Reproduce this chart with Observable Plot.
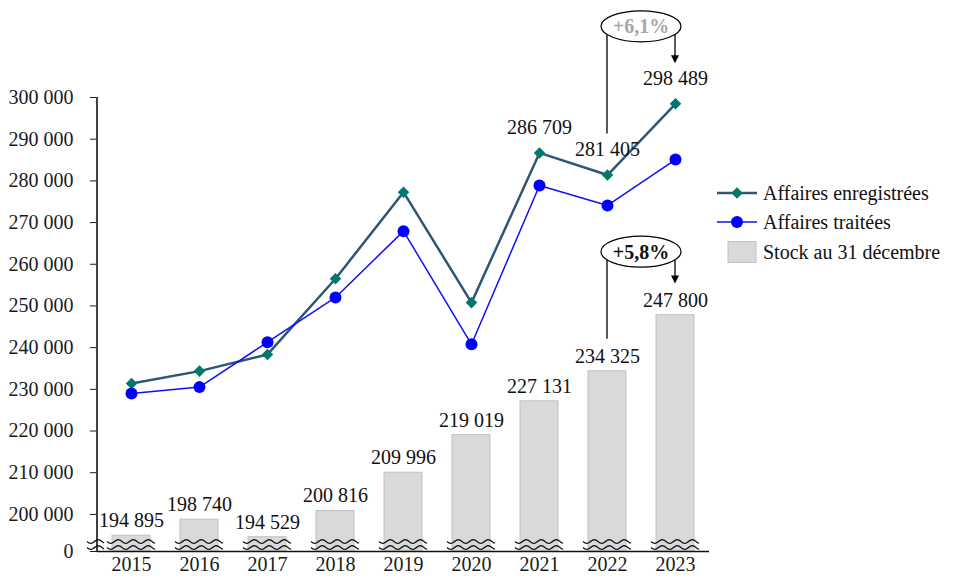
<!DOCTYPE html>
<html><head><meta charset="utf-8">
<script src="https://cdn.jsdelivr.net/npm/d3@7"></script>
<script src="https://cdn.jsdelivr.net/npm/@observablehq/plot@0.6"></script>
<style>
body{margin:0;background:#fff}
#chart{position:relative;width:959px;height:578px}
</style>
</head><body><div id="chart"></div>
<script>
// ---- data ----
const years = [2015, 2016, 2017, 2018, 2019, 2020, 2021, 2022, 2023];
const enregistrees = [231400, 234370, 238370, 256520, 277290, 250800, 286709, 281405, 298489];
const traitees = [229000, 230530, 241320, 252040, 267940, 240800, 278900, 274100, 285100];
const stock = [194895, 198740, 194529, 200816, 209996, 219019, 227131, 234325, 247800];
const labelledYears = [2021, 2022, 2023];
const yBreak = 191100; // bottom of the broken axis, labelled "0"
const yTicks = [191100, 200000, 210000, 220000, 230000, 240000, 250000, 260000, 270000, 280000, 290000, 300000];
const yTickLabels = ["0", "200 000", "210 000", "220 000", "230 000", "240 000", "250 000", "260 000", "270 000", "280 000", "290 000", "300 000"];
const growthLabels = ["+6,1%", "+5,8%"];
const legendLabels = ["Affaires enregistrées", "Affaires traitées", "Stock au 31 décembre"];

const fmt = n => d3.format(",")(n).replace(/,/g, "\u00a0");
const data = years.map((year, i) => ({year, enr: enregistrees[i], tra: traitees[i], stock: stock[i]}));

const C_ENR_LINE = "#2f5676", C_ENR_DOT = "#00786c", C_TRA = "#1010f5", C_BAR = "#d9d9d9", C_AXIS = "#404040";

const chart = Plot.plot({
  width: 959, height: 578,
  marginLeft: 97, marginRight: 250, marginTop: 97, marginBottom: 27,
  style: {fontFamily: "'Liberation Serif', serif", fontSize: "20px", color: "#1a1a1a", background: "transparent", overflow: "visible"},
  x: {type: "band", domain: years, paddingInner: 0.44, paddingOuter: 0.22, tickSize: 0, tickPadding: 5, label: null, tickFormat: d => String(d)},
  y: {domain: [yBreak, 300000], ticks: yTicks, tickFormat: d => yTickLabels[yTicks.indexOf(d)], tickSize: 7, tickPadding: 17, label: null},
  marks: [
    Plot.barY(data, {x: "year", y1: () => yBreak, y2: "stock", fill: C_BAR, stroke: "#c2c2c2", strokeWidth: 1}),
    Plot.ruleY([yBreak], {stroke: "#111", strokeWidth: 1.6}),
    Plot.line(data, {x: "year", y: "enr", stroke: C_ENR_LINE, strokeWidth: 2.5}),
    Plot.line(data, {x: "year", y: "tra", stroke: C_TRA, strokeWidth: 1.5}),
    Plot.dot(data, {x: "year", y: "enr", symbol: "diamond2", r: 5.2, fill: C_ENR_DOT}),
    Plot.dot(data, {x: "year", y: "tra", r: 6, fill: "#0000ff"}),
    Plot.text(data, {x: "year", y: "stock", text: d => fmt(d.stock), dy: -15, fill: "#111"}),
    Plot.text(data.filter(d => labelledYears.includes(d.year)), {x: "year", y: "enr", text: d => fmt(d.enr), dy: -25, fill: "#111"})
  ]
});
document.getElementById("chart").appendChild(chart);

// ---- decorations drawn from the Plot scales ----
const svg = d3.select(chart);
const xs = chart.scale("x"), ys = chart.scale("y");
const bw = xs.bandwidth;
const cx = y => xs.apply(y) + bw / 2;
const base = ys.apply(yBreak);
const axisX = xs.range[0];

// y axis line
svg.append("line").attr("x1", axisX).attr("x2", axisX).attr("y1", ys.apply(300000)).attr("y2", base)
  .attr("stroke", C_AXIS).attr("stroke-width", 2);

function wave(x0, x1, y, amp = 1.8, period = 15) {
  const pts = d3.range(x0, x1 + 0.5, 1).map(x => [x, y + amp * Math.sin(2 * Math.PI * (x - x0) / period)]);
  return d3.line()(pts);
}
const wg = svg.append("g").attr("fill", "none").attr("stroke", "#111").attr("stroke-width", 1.3);
const breaks = [[axisX - 10, axisX + 7], ...years.map(y => [xs.apply(y) - 5, xs.apply(y) + bw + 5])];
for (const [a, b] of breaks) {
  wg.append("path").attr("d", wave(a, b, base - 9.5));
  wg.append("path").attr("d", wave(a, b, base - 3.5));
}

// growth annotations
const x22 = cx(2022), x23 = cx(2023), mid = (x22 + x23) / 2;
const ann = [
  {text: growthLabels[0], color: "#a6a6a6", y22: ys.apply(enregistrees[7]), y23: ys.apply(enregistrees[8]), eOff: -77, endOff: -41},
  {text: growthLabels[1], color: "#111", y22: ys.apply(stock[7]), y23: ys.apply(stock[8]), eOff: -63, endOff: -32}
];
const rx = 40, ry = 15.5;
const ag = svg.append("g").attr("text-anchor", "middle");
for (const a of ann) {
  const cy = a.y23 + a.eOff;
  const edge = cy + ry * Math.sqrt(1 - Math.pow((x22 - mid) / rx, 2));
  ag.append("line").attr("x1", x22).attr("x2", x22).attr("y1", edge).attr("y2", a.y22 + a.endOff).attr("stroke", "#000").attr("stroke-width", 1.3);
  const tip = a.y23 + a.endOff + 1;
  ag.append("line").attr("x1", x23).attr("x2", x23).attr("y1", edge).attr("y2", tip - 6).attr("stroke", "#000").attr("stroke-width", 1.3);
  ag.append("path").attr("d", `M${x23 - 4},${tip - 8}L${x23 + 4},${tip - 8}L${x23},${tip}Z`).attr("fill", "#000");
  ag.append("ellipse").attr("cx", mid).attr("cy", cy).attr("rx", rx).attr("ry", ry).attr("fill", "#fff").attr("stroke", "#000").attr("stroke-width", 1.2);
  ag.append("text").attr("x", mid).attr("y", cy).attr("dy", "0.35em")
    .attr("font-weight", "bold").attr("fill", a.color).attr("font-size", 20).text(a.text);
}

// legend
const lg = svg.append("g").attr("font-size", 20).attr("fill", "#111").attr("text-anchor", "start");
const lx = 717, ly = [193, 222, 252];
lg.append("line").attr("x1", lx).attr("x2", lx + 40).attr("y1", ly[0]).attr("y2", ly[0]).attr("stroke", C_ENR_LINE).attr("stroke-width", 2.5);
lg.append("path").attr("d", d3.symbol(d3.symbolDiamond2, Math.PI * 5.2 * 5.2)()).attr("transform", `translate(${lx + 20},${ly[0]})`).attr("fill", C_ENR_DOT);
lg.append("line").attr("x1", lx).attr("x2", lx + 40).attr("y1", ly[1]).attr("y2", ly[1]).attr("stroke", C_TRA).attr("stroke-width", 1.5);
lg.append("circle").attr("cx", lx + 20).attr("cy", ly[1]).attr("r", 6).attr("fill", "#0000ff");
lg.append("rect").attr("x", 728).attr("y", ly[2] - 10.5).attr("width", 28).attr("height", 21).attr("fill", C_BAR).attr("stroke", "#c2c2c2");
legendLabels.forEach((t, i) => lg.append("text").attr("x", 763).attr("y", ly[i]).attr("dy", "0.33em").text(t));
</script>
</body></html>
